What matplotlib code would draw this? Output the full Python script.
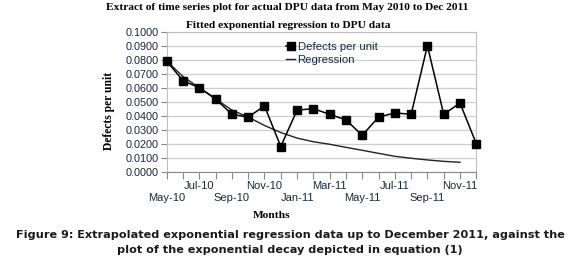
import numpy as np
import matplotlib
matplotlib.use("Agg")
from matplotlib import pyplot as plt

# datos
months = ["May-10", "Jun-10", "Jul-10", "Aug-10", "Sep-10", "Oct-10", "Nov-10", "Dec-10",
          "Jan-11", "Feb-11", "Mar-11", "Apr-11", "May-11", "Jun-11", "Jul-11", "Aug-11",
          "Sep-11", "Oct-11", "Nov-11", "Dec-11"]
dpu = [0.079, 0.065, 0.060, 0.052, 0.041, 0.039, 0.047, 0.018, 0.044, 0.045,
       0.041, 0.037, 0.026, 0.039, 0.042, 0.041, 0.090, 0.041, 0.049, 0.020]
regression = [0.079, 0.068, 0.060, 0.052, 0.044, 0.039, 0.033, 0.028, 0.024, 0.0214,
              0.0196, 0.0174, 0.0153, 0.0131, 0.0110, 0.0096, 0.0084, 0.0074, 0.0067]

x = np.arange(len(months))

fig = plt.figure(figsize=(5.8, 2.71), dpi=100)
ax = fig.add_axes([166.7 / 580, 1 - 171.7 / 271, 309.6 / 580, 140 / 271])

ax.plot(x, dpu, color="black", lw=1.1, marker="s", markersize=5.3, label="Defects per unit",
        clip_on=False, zorder=3)
ax.plot(x[:len(regression)], regression, color="#222222", lw=1.0, label="Regression")

ax.set_xlim(0, len(months) - 1)
ax.set_ylim(0, 0.1)
ax.set_yticks(np.arange(0, 0.1001, 0.01))
ax.set_yticklabels(["%.4f" % v for v in np.arange(0, 0.1001, 0.01)])
ax.yaxis.grid(True, color="#cfcfcf", lw=0.9)
ax.set_axisbelow(True)

# etiquetas del eje x escalonadas en dos filas
ax.xaxis.remove_overlapping_locs = False
upper = [m if i % 4 == 2 else "" for i, m in enumerate(months)]
lower_pos = [i for i in x if i % 4 == 0]
ax.set_xticks(x)
ax.set_xticklabels(upper, fontsize=8, color="#1c2440", fontfamily="Liberation Sans")
ax.set_xticks(lower_pos, minor=True)
ax.set_xticklabels([months[i] for i in lower_pos], minor=True, fontsize=8,
                   color="#1c2440", fontfamily="Liberation Sans")
ax.tick_params(axis="x", which="major", length=5, color="#888888", width=0.8, pad=2)
ax.tick_params(axis="x", which="minor", length=0, pad=15)
ax.tick_params(axis="y", length=4, color="#888888", width=0.8, pad=2, labelsize=7.8,
               labelcolor="#1c2440")
for lab in ax.get_yticklabels():
    lab.set_fontfamily("Liberation Sans")

for s in ["top", "right", "left"]:
    ax.spines[s].set_color("#bfbfbf")
    ax.spines[s].set_linewidth(0.8)
ax.spines["bottom"].set_color("#888888")
ax.spines["bottom"].set_linewidth(0.8)

leg = ax.legend(loc="upper left", bbox_to_anchor=(0.36, 0.985), frameon=False,
                handlelength=0.8, handletextpad=0.2, labelspacing=0.25, borderpad=0.2,
                prop={"family": "Liberation Sans", "size": 8.2})
for t in leg.get_texts():
    t.set_color("#1c2440")

ax.set_ylabel("Defects per unit", fontfamily="Liberation Serif", fontweight="bold", fontsize=8.4)
ax.yaxis.set_label_coords((115 - 166.7) / 309.6, (171.7 - 111) / 140)

fig.text(287 / 580, 1 - 8 / 271, "Extract of time series plot for actual DPU data from May 2010 to Dec 2011",
         ha="center", va="center", fontfamily="Liberation Serif", fontweight="bold", fontsize=8.2)
fig.text(288 / 580, 1 - 26 / 271, "Fitted exponential regression to DPU data",
         ha="center", va="center", fontfamily="Liberation Serif", fontweight="bold", fontsize=8.2)
fig.text(272 / 580, 1 - 215 / 271, "Months",
         ha="center", va="center", fontfamily="Liberation Serif", fontweight="bold", fontsize=8.2)

fig.text(0.5, 1 - 235 / 271, "Figure 9: Extrapolated exponential regression data up to December 2011, against the",
         ha="center", va="center", fontfamily="DejaVu Sans", fontweight="bold", fontsize=8.1, color="#1a1a1a")
fig.text(0.5, 1 - 250 / 271, "plot of the exponential decay depicted in equation (1)",
         ha="center", va="center", fontfamily="DejaVu Sans", fontweight="bold", fontsize=8.1, color="#1a1a1a")

fig.savefig("out.png", dpi=100)
